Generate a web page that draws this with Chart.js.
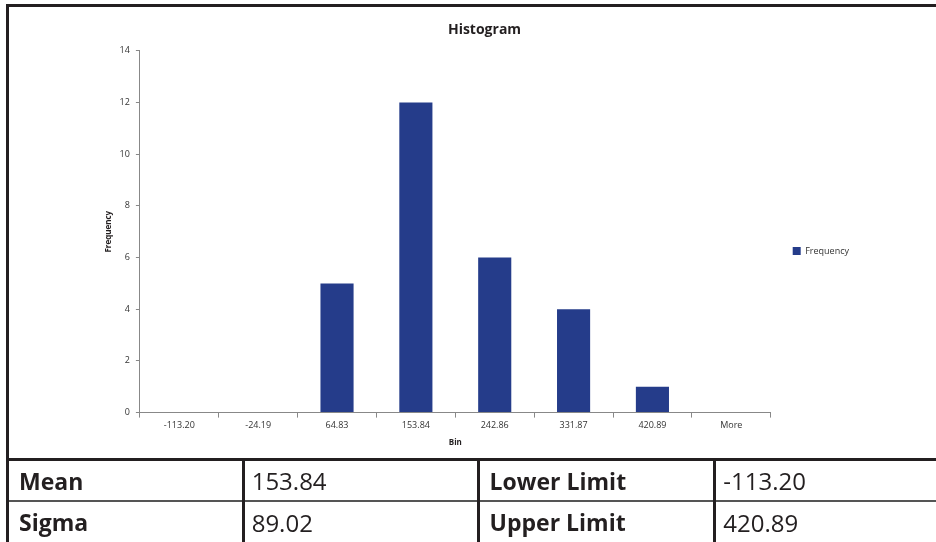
<!DOCTYPE html>
<html>
<head>
<meta charset="utf-8">
<script src="https://cdn.jsdelivr.net/npm/chart.js@4.4.0/dist/chart.umd.min.js"></script>
<style>
  body { margin: 0; background: #fff; width: 936px; height: 542px; overflow: hidden; position: relative; }
  #frame {
    position: absolute; left: 6px; top: 4px; width: 932px; height: 454px;
    border-left: 3px solid #231f20; border-top: 3px solid #231f20;
    box-sizing: border-box;
  }
  #wrap { position: absolute; left: 3px; top: 3px; width: 927px; height: 451px; }
  #stats {
    position: absolute; left: 6px; top: 458px; width: 940px;
    border-collapse: collapse; font-family: "Open Sans", "Noto Sans", sans-serif;
  }
  #stats td {
    font-size: 24px; color: #231f20; padding: 0 0 0 7px; height: 40px;
    border-left: 3px solid #231f20; border-bottom: 2px solid #555;
  }
  #stats tr:first-child td { border-top: 3px solid #231f20; height: 39px; }
  #stats td.lbl { font-weight: bold; font-size: 23px; padding-left: 10px; }
</style>
</head>
<body>
<div id="frame"><div id="wrap"><canvas id="myChart"></canvas></div></div>
<table id="stats"><tbody id="statsBody"></tbody></table>
<script>
const bins = ['-113.20', '-24.19', '64.83', '153.84', '242.86', '331.87', '420.89', 'More']
const frequency = [0, 0, 5, 12, 6, 4, 1, 0]
const statLabels = ['Mean', 'Lower Limit', 'Sigma', 'Upper Limit']
const statValues = ['153.84', '-113.20', '89.02', '420.89']

// stats table under the chart, two pairs per row
const body = document.getElementById('statsBody')
const widths = [234, 236, 235, 233]
for (let r = 0; r < 2; r++) {
    const tr = document.createElement('tr')
    for (let c = 0; c < 2; c++) {
        const i = r * 2 + c
        const lbl = document.createElement('td')
        lbl.className = 'lbl'
        lbl.style.width = widths[c * 2] + 'px'
        lbl.innerHTML = statLabels[i]
        const val = document.createElement('td')
        val.style.width = widths[c * 2 + 1] + 'px'
        val.innerHTML = statValues[i]
        tr.appendChild(lbl)
        tr.appendChild(val)
    }
    body.appendChild(tr)
}

// nudge title and legend to where Excel put them
const nudge = {
    id: 'nudge',
    afterLayout(chart) {
        chart.titleBlock.left += 10
        chart.titleBlock.right += 10
        chart.legend.top += 22
        chart.legend.bottom += 22
    }
}

const font = "Open Sans, Liberation Sans, sans-serif"
const ctx = document.getElementById('myChart')
const myChart = new Chart(ctx, {
    type: 'bar',
    data: {
        labels: bins,
        datasets: [{
            label: 'Frequency',
            data: frequency,
            backgroundColor: '#253c8a',
            barPercentage: 0.42,
            categoryPercentage: 1
        }]
    },
    plugins: [nudge],
    options: {
        responsive: true,
        maintainAspectRatio: false,
        animation: false,
        layout: { padding: { left: 78, right: 80, top: 0, bottom: 13 } },
        plugins: {
            title: {
                display: true,
                text: 'Histogram',
                color: '#231f20',
                font: { family: font, size: 14, weight: 'bold' },
                padding: { top: 12, bottom: 12 }
            },
            legend: {
                position: 'right',
                labels: {
                    boxWidth: 8,
                    boxHeight: 8,
                    padding: 22,
                    color: '#333',
                    font: { family: font, size: 9 }
                }
            },
            tooltip: { enabled: false }
        },
        scales: {
            x: {
                border: { color: '#888', width: 1 },
                grid: { display: true, drawOnChartArea: false, offset: true, tickLength: 5, color: '#888' },
                ticks: { color: '#333', font: { family: font, size: 9 }, maxRotation: 0, padding: 2 },
                title: { display: true, text: 'Bin', color: '#231f20', font: { family: font, size: 8, weight: 'bold' }, padding: { top: 6, bottom: 0 } }
            },
            y: {
                min: 0,
                max: 14,
                border: { color: '#888', width: 1 },
                grid: { display: true, drawOnChartArea: false, tickLength: 4, color: '#888' },
                ticks: { stepSize: 2, color: '#333', font: { family: font, size: 9 }, padding: 6 },
                title: { display: true, text: 'Frequency', color: '#231f20', font: { family: font, size: 8, weight: 'bold' }, padding: { top: 14, bottom: 0 } }
            }
        }
    }
});
</script>
</body>
</html>
